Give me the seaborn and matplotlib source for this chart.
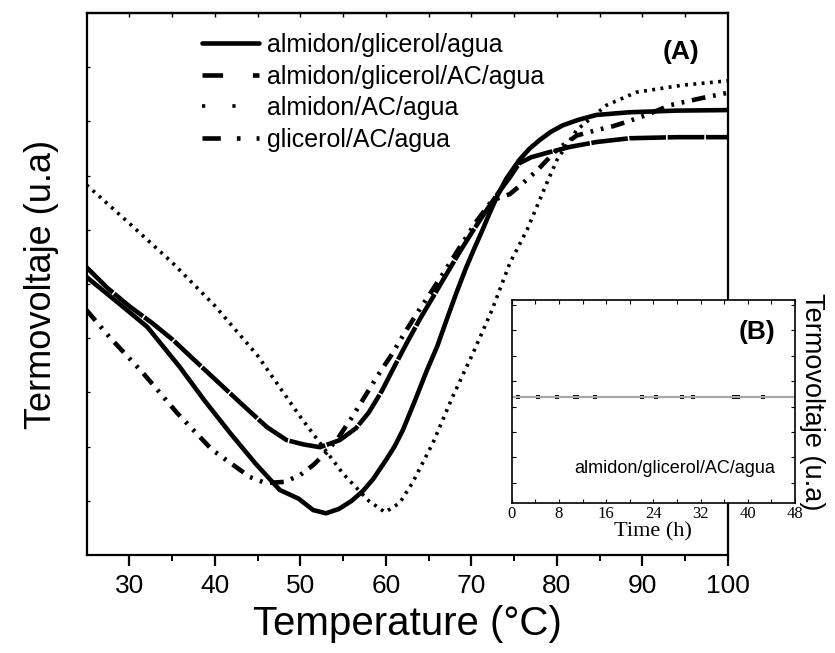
import matplotlib
matplotlib.use("Agg")
import matplotlib.pyplot as plt
from matplotlib.lines import Line2D
import seaborn as sns
import numpy as np

# ---------------- data ----------------
# almidon/glicerol/agua (steep solid curve)
x_agua = [25.0, 28.5, 32.1, 35.9, 38.8, 41.8, 44.8, 47.6, 49.8, 51.5, 53.0, 54.5, 56.0, 57.3,
          58.5, 60.0, 61.0, 62.0, 63.4, 64.8, 66.0, 67.1, 68.2, 69.4, 70.4, 71.3, 72.1, 73.1,
          74.1, 75.6, 76.8, 78.0, 79.3, 80.7, 82.5, 84.6, 88.5, 94.0, 100.0]
y_agua = [51.3, 46.8, 42.1, 34.7, 28.5, 22.5, 16.8, 12.0, 10.4, 8.3, 7.7, 8.5, 10.0, 11.8,
          14.0, 17.5, 20.0, 23.1, 28.5, 34.1, 38.5, 43.4, 48.2, 53.1, 56.8, 60.0, 63.0, 66.5,
          69.5, 72.9, 75.0, 76.6, 78.1, 79.3, 80.3, 81.2, 81.7, 82.0, 82.1]

# almidon/glicerol/AC/agua
x_gac = [25.0, 27.5, 30.1, 32.6, 35.1, 38.0, 41.0, 43.6, 46.1, 48.4, 50.4, 52.3, 54.6, 56.5,
         58.0, 59.5, 61.0, 62.5, 64.0, 65.5, 67.0, 68.5, 70.0, 71.5, 73.0, 74.5, 75.6,
         77.0, 78.8, 81.5, 84.6, 88.5, 94.0, 100.0]
y_gac = [53.1, 49.2, 45.8, 42.9, 39.7, 35.4, 31.0, 27.2, 23.6, 21.2, 20.4, 19.9, 21.2, 23.4,
         26.3, 30.2, 34.8, 39.3, 43.6, 47.6, 51.6, 55.6, 59.4, 63.0, 66.5, 69.7, 72.3,
         73.4, 74.2, 75.3, 76.2, 76.9, 77.1, 77.1]

# almidon/AC/agua (dotted)
x_ac = [25.0, 30.0, 35.0, 40.0, 45.0, 50.0, 55.0, 58.0, 59.9, 61.6, 63.1,
        65.5, 67.8, 70.2, 72.4, 74.5, 76.5, 78.8, 80.0, 82.3, 85.8, 89.3, 94.7, 100.0]
y_ac = [68.3, 61.2, 54.0, 46.0, 36.8, 25.5, 15.0, 10.0, 7.9, 9.6, 13.3,
        20.7, 29.2, 37.3, 45.2, 53.9, 60.0, 68.6, 72.9, 78.4, 83.0, 85.4, 86.7, 87.5]

# glicerol/AC/agua (dash-dot-dot)
x_gl = [25.0, 27.7, 31.6, 35.6, 39.7, 44.1, 45.9, 48.2, 50.0, 51.5, 53.0, 54.5, 56.2, 57.6,
        59.0, 60.6, 62.2, 63.8, 65.4, 67.0, 68.8, 70.6, 72.4, 74.5, 76.0, 77.7, 80.0, 82.3,
        84.6, 86.5, 88.1, 90.5, 93.2, 96.9, 100.0]
y_gl = [45.2, 40.2, 33.6, 26.2, 19.4, 14.4, 13.3, 13.5, 14.8, 16.6, 18.9, 21.8, 25.8, 29.4,
        33.0, 36.8, 41.0, 45.0, 48.8, 52.7, 57.2, 61.6, 65.4, 66.6, 68.6, 71.0, 74.8, 77.4,
        78.4, 79.1, 79.9, 81.2, 83.0, 84.3, 85.3]

labels = ["almidon/glicerol/agua", "almidon/glicerol/AC/agua",
          "almidon/AC/agua", "glicerol/AC/agua"]

# inset (B)
t_line = [0, 48]
v_line = [0.52, 0.52]
t_pts = [1.1, 4.5, 7.6, 10.7, 11.0, 14.1, 22.0, 24.4, 28.8, 30.8, 37.6, 38.4, 42.6]
v_pts = [0.52] * len(t_pts)
inset_ticks = [0, 8, 16, 24, 32, 40, 48]
main_ticks = [30, 40, 50, 60, 70, 80, 90, 100]

# ---------------- figure ----------------
sns.set_style("ticks", {"text.color": "black", "axes.labelcolor": "black",
                        "xtick.color": "black", "ytick.color": "black",
                        "axes.edgecolor": "black"})
plt.rcParams['font.family'] = ['Liberation Sans', 'DejaVu Sans']
plt.rcParams['axes.linewidth'] = 1.6

fig = plt.figure(figsize=(8.35, 6.53), dpi=100)
ax = fig.add_axes([0.1036, 0.150, 0.7683, 0.830])

lw = 3.3
sns.lineplot(x=x_agua, y=y_agua, ax=ax, color="black", lw=lw, sort=False, estimator=None)
sns.lineplot(x=x_gac, y=y_gac, ax=ax, color="black", lw=lw, sort=False, estimator=None)
sns.lineplot(x=x_ac, y=y_ac, ax=ax, color="black", lw=2.6, sort=False, estimator=None)
sns.lineplot(x=x_gl, y=y_gl, ax=ax, color="black", lw=3.3, sort=False, estimator=None)
lines = ax.get_lines()
lines[0].set_linestyle('-')
lines[1].set_linestyle((0, (8, 0.35)))
lines[2].set_linestyle((0, (0.8, 1.5)))
lines[3].set_linestyle((0, (3.0, 1.7, 0.6, 1.7, 0.6, 1.7)))

ax.set_xlim(25, 100)
ax.set_ylim(0, 100)
ax.set_xticks(main_ticks)
ax.set_xticks(np.arange(35, 100, 10), minor=True)
ax.set_yticks(np.arange(10, 100, 10))
ax.set_yticklabels([])
ax.tick_params(axis='y', direction='in', length=2.5, width=0.9)
ax.tick_params(axis='x', which='major', direction='out', length=8, width=1.6,
               labelsize=19, pad=6)
ax.tick_params(axis='x', which='minor', direction='out', length=4, width=1.4)
ax.set_xlabel("Temperature (°C)", fontsize=29, labelpad=5)
ax.set_ylabel("Termovoltaje (u.a)", fontsize=26, labelpad=16)

top = ax.secondary_xaxis('top')
top.set_xticks(np.arange(30, 100, 5))
top.set_xticklabels([])
top.tick_params(direction='in', length=3, width=1.0)

ax.text(0.955, 0.928, "(A)", transform=ax.transAxes, fontsize=19, fontweight='bold',
        ha='right', va='center')

handles = [
    Line2D([], [], color='black', lw=3.3, ls='-'),
    Line2D([], [], color='black', lw=3.3, ls=(0, (4.5, 6.5))),
    Line2D([], [], color='black', lw=2.6, ls=(0, (0.9, 7.5))),
    Line2D([], [], color='black', lw=3.3, ls=(0, (4.0, 3.5, 0.8, 3.5, 0.8, 3.5))),
]
leg = ax.legend(handles, labels, loc='upper left', bbox_to_anchor=(0.18, 0.963),
                frameon=False, fontsize=18, handlelength=2.3, handletextpad=0.3,
                labelspacing=0.3, borderpad=0, borderaxespad=0)

# ---------------- inset ----------------
axin = fig.add_axes([0.613, 0.2297, 0.339, 0.3109])
sns.lineplot(x=t_line, y=v_line, ax=axin, color="#a8a8a8", lw=1.6, estimator=None)
sns.scatterplot(x=t_pts, y=v_pts, ax=axin, color="black", s=6, marker='s', linewidth=0)
axin.set_xlim(0, 48)
axin.set_ylim(0, 1)
axin.set_xticks(inset_ticks)
axin.set_xticks(np.arange(4, 48, 8), minor=True)
axin.set_yticks(np.arange(0.1, 1.0, 0.125))
axin.set_yticklabels([])
for s in axin.spines.values():
    s.set_linewidth(1.2)
axin.tick_params(axis='both', which='both', direction='in', top=True, right=True,
                 length=3, width=0.8)
axin.tick_params(axis='x', which='major', labelsize=12, pad=2)
for lab in axin.get_xticklabels():
    lab.set_family(['Liberation Serif', 'DejaVu Serif'])
axin.set_xlabel("Time (h)", fontsize=16, family=['Liberation Serif', 'DejaVu Serif'],
                labelpad=0)
axin.yaxis.set_label_position('right')
axin.set_ylabel("Termovoltaje (u.a)", fontsize=19.5, rotation=270, labelpad=22)
axin.text(0.93, 0.84, "(B)", transform=axin.transAxes, fontsize=19, fontweight='bold',
          ha='right', va='center')
axin.text(0.93, 0.17, "almidon/glicerol/AC/agua", transform=axin.transAxes, fontsize=13,
          ha='right', va='center')

fig.savefig("out.png", dpi=100)
